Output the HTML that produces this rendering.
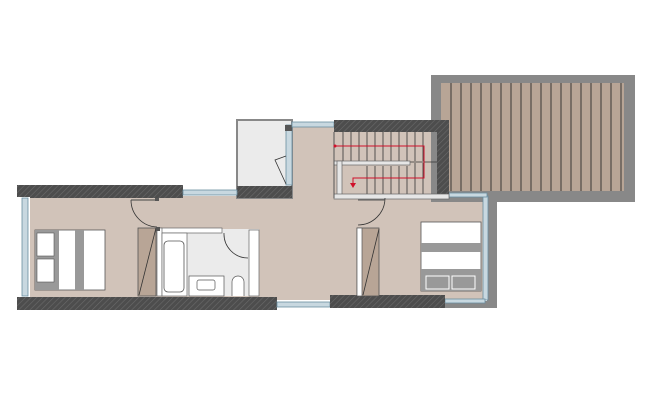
<!DOCTYPE html>
<html><head><meta charset="utf-8"><style>
html,body{margin:0;padding:0;background:#fff;width:658px;height:406px;overflow:hidden}
svg{display:block}
</style></head><body>
<svg width="658" height="406" viewBox="0 0 658 406" xmlns="http://www.w3.org/2000/svg">
<defs>
<pattern id="h" width="4" height="4" patternUnits="userSpaceOnUse" patternTransform="rotate(45)">
<rect width="4" height="4" fill="#4d4d4d"/><line x1="0" y1="0" x2="0" y2="4" stroke="#6a6a6a" stroke-width="1.2"/>
</pattern>
</defs>
<rect x="22" y="196" width="465" height="104" fill="#d1c3b9"/>
<rect x="290" y="124" width="150" height="76" fill="#d1c3b9"/>
<rect x="431" y="75" width="204" height="127" fill="#888"/>
<rect x="441" y="83" width="183" height="108" fill="#b8a596"/>
<g stroke="#2a2a2a" stroke-width="0.9">
<line x1="451" y1="83" x2="451" y2="191"/><line x1="461" y1="83" x2="461" y2="191"/><line x1="471" y1="83" x2="471" y2="191"/><line x1="481" y1="83" x2="481" y2="191"/><line x1="491" y1="83" x2="491" y2="191"/><line x1="501" y1="83" x2="501" y2="191"/><line x1="511" y1="83" x2="511" y2="191"/><line x1="521" y1="83" x2="521" y2="191"/><line x1="531" y1="83" x2="531" y2="191"/><line x1="541" y1="83" x2="541" y2="191"/><line x1="551" y1="83" x2="551" y2="191"/><line x1="561" y1="83" x2="561" y2="191"/><line x1="571" y1="83" x2="571" y2="191"/><line x1="581" y1="83" x2="581" y2="191"/><line x1="591" y1="83" x2="591" y2="191"/><line x1="601" y1="83" x2="601" y2="191"/><line x1="611" y1="83" x2="611" y2="191"/><line x1="621" y1="83" x2="621" y2="191"/>
</g>
<rect x="487" y="192" width="10" height="116" fill="#888"/>
<rect x="483" y="196" width="5" height="104" fill="#c8d8e0" stroke="#6a8ea0" stroke-width="0.8"/>
<rect x="445" y="301" width="52" height="7" fill="#888"/>
<rect x="445" y="299" width="40" height="4" fill="#c8d8e0" stroke="#6a8ea0" stroke-width="0.8"/>
<rect x="449" y="193" width="38" height="4" fill="#c8d8e0" stroke="#6a8ea0" stroke-width="0.8"/>
<rect x="237" y="120" width="55" height="78" fill="#ebebeb" stroke="#888" stroke-width="2"/>
<rect x="237" y="186" width="55" height="12" fill="url(#h)"/>
<rect x="286" y="125" width="6" height="60" fill="#c8d8e0" stroke="#6a8ea0" stroke-width="0.8"/>
<rect x="285" y="125" width="7" height="6" fill="#555"/>
<path d="M286 184 L275 160 L286 156" fill="none" stroke="#333" stroke-width="0.8"/>
<rect x="292" y="122" width="42" height="5" fill="#c8d8e0" stroke="#6a8ea0" stroke-width="0.8"/>
<rect x="334" y="120" width="115" height="12" fill="url(#h)"/>
<rect x="437" y="120" width="12" height="76" fill="url(#h)"/>
<g stroke="#333" stroke-width="0.8">
<line x1="343" y1="132" x2="343" y2="161"/><line x1="351" y1="132" x2="351" y2="161"/><line x1="359" y1="132" x2="359" y2="161"/><line x1="367" y1="132" x2="367" y2="161"/><line x1="375" y1="132" x2="375" y2="161"/><line x1="383" y1="132" x2="383" y2="161"/><line x1="391" y1="132" x2="391" y2="161"/><line x1="399" y1="132" x2="399" y2="161"/><line x1="407" y1="132" x2="407" y2="161"/><line x1="415" y1="132" x2="415" y2="161"/><line x1="423" y1="132" x2="423" y2="161"/>
<line x1="367" y1="166" x2="367" y2="194"/><line x1="375" y1="166" x2="375" y2="194"/><line x1="383" y1="166" x2="383" y2="194"/><line x1="391" y1="166" x2="391" y2="194"/><line x1="399" y1="166" x2="399" y2="194"/><line x1="407" y1="166" x2="407" y2="194"/><line x1="415" y1="163" x2="415" y2="194"/><line x1="423" y1="163" x2="423" y2="194"/>
<line x1="410" y1="162" x2="437" y2="162"/>
</g>
<rect x="334" y="161" width="76" height="4" fill="#e6e6e6" stroke="#666" stroke-width="0.7"/>
<rect x="337" y="161" width="5" height="37" fill="#e6e6e6" stroke="#666" stroke-width="0.7"/>
<rect x="334" y="194" width="115" height="5" fill="#e6e6e6" stroke="#666" stroke-width="0.7"/>
<line x1="334" y1="132" x2="334" y2="198" stroke="#555" stroke-width="1"/>
<path d="M335 146 H424 V178 H353 V184" fill="none" stroke="#d0102a" stroke-width="1"/>
<circle cx="335" cy="146" r="1.5" fill="#d0102a"/>
<path d="M350 183 L356 183 L353 188 Z" fill="#d0102a"/>
<rect x="17" y="185" width="166" height="13" fill="url(#h)"/>
<rect x="183" y="190" width="54" height="5" fill="#c8d8e0" stroke="#6a8ea0" stroke-width="0.8"/>
<rect x="17" y="197" width="13" height="100" fill="#fff"/>
<rect x="22" y="198" width="6" height="98" fill="#c8d8e0" stroke="#6a8ea0" stroke-width="0.8"/>
<rect x="17" y="297" width="260" height="13" fill="url(#h)"/>
<rect x="277" y="302" width="53" height="5" fill="#c8d8e0" stroke="#6a8ea0" stroke-width="0.8"/>
<rect x="330" y="295" width="115" height="13" fill="url(#h)"/>
<!-- left door -->
<path d="M131 200 A27 27 0 0 0 157 227" fill="none" stroke="#333" stroke-width="0.8"/>
<line x1="131" y1="200" x2="158" y2="200" stroke="#444" stroke-width="1"/>
<rect x="155" y="198" width="4" height="3" fill="#555"/>
<!-- right door -->
<path d="M385 198 A27 27 0 0 1 358 225" fill="none" stroke="#333" stroke-width="0.8"/>
<line x1="358" y1="200" x2="385" y2="200" stroke="#555" stroke-width="1"/>
<!-- left bed -->
<rect x="35" y="230" width="70" height="60" fill="#fff" stroke="#555" stroke-width="0.8"/>
<rect x="35" y="230" width="24" height="60" fill="#999"/>
<rect x="37" y="233" width="17" height="23" fill="#fff" stroke="#555" stroke-width="0.6"/>
<rect x="37" y="259" width="17" height="23" fill="#fff" stroke="#555" stroke-width="0.6"/>
<rect x="75" y="230" width="9" height="60" fill="#999"/>
<!-- left closet -->
<rect x="138" y="228" width="18" height="68" fill="#b8a596" stroke="#555" stroke-width="0.8"/>
<line x1="156" y1="228" x2="139" y2="295" stroke="#333" stroke-width="0.8"/>
<!-- bathroom -->
<rect x="157" y="229" width="102" height="67" fill="#ebebeb"/>
<rect x="157" y="228" width="65" height="5" fill="#fff" stroke="#666" stroke-width="0.7"/>
<rect x="157" y="228" width="5" height="68" fill="#fff" stroke="#666" stroke-width="0.7"/>
<rect x="156" y="227" width="4" height="4" fill="#555"/>
<rect x="249" y="230" width="10" height="66" fill="#fff" stroke="#666" stroke-width="0.7"/>
<rect x="162" y="233" width="25" height="63" fill="#fff" stroke="#666" stroke-width="0.7"/>
<rect x="164" y="241" width="20" height="51" rx="4" fill="#fff" stroke="#555" stroke-width="0.8"/>
<rect x="189" y="276" width="35" height="20" fill="#fff" stroke="#555" stroke-width="0.7"/>
<rect x="197" y="280" width="18" height="10" rx="2" fill="#fff" stroke="#555" stroke-width="0.7"/>
<path d="M232 296 V282 A6 6 0 0 1 244 282 V296" fill="#fff" stroke="#555" stroke-width="0.7"/>
<path d="M224 233 A24 24 0 0 0 248 258" fill="none" stroke="#333" stroke-width="0.8"/>
<!-- right closet -->
<rect x="357" y="228" width="22" height="68" fill="#b8a596" stroke="#555" stroke-width="0.8"/>
<rect x="357" y="228" width="5" height="68" fill="#fff" stroke="#555" stroke-width="0.7"/>
<line x1="379" y1="229" x2="363" y2="295" stroke="#333" stroke-width="0.8"/>
<!-- right bed -->
<rect x="421" y="222" width="60" height="69" fill="#fff" stroke="#555" stroke-width="0.8"/>
<rect x="421" y="243" width="60" height="9" fill="#999"/>
<rect x="421" y="269" width="60" height="22" fill="#999"/>
<rect x="426" y="276" width="23" height="13" fill="#999" stroke="#fff" stroke-width="1"/>
<rect x="452" y="276" width="23" height="13" fill="#999" stroke="#fff" stroke-width="1"/>
</svg>
</body></html>
